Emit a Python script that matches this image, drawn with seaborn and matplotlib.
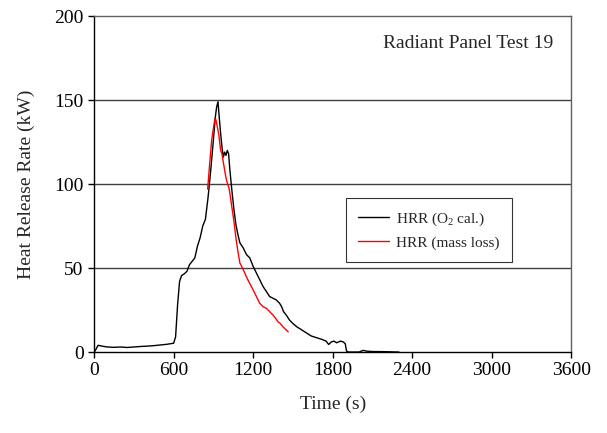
import matplotlib
matplotlib.use("Agg")
import matplotlib.pyplot as plt
import seaborn as sns
import pandas as pd

# HRR from oxygen calorimetry
o2_time = [0, 10, 30, 60, 100, 150, 200, 250, 300, 350, 400, 450, 500, 550, 580,
           600, 615, 630, 645, 660, 680, 700, 720, 740, 760, 780, 800, 820, 840,
           860, 880, 900, 915, 925, 935, 945, 955, 965, 975, 985, 995, 1005, 1015,
           1025, 1040, 1055, 1070, 1085, 1100, 1125, 1150, 1175, 1200, 1225, 1250,
           1275, 1300, 1325, 1350, 1375, 1400, 1415, 1430, 1450, 1475, 1500, 1530,
           1560, 1600, 1640, 1680, 1720, 1750, 1770, 1790, 1810, 1830, 1860, 1880,
           1895, 1905, 1920, 1960, 2000, 2030, 2060, 2100, 2200, 2300]
o2_hrr = [0, 1, 4, 3.5, 3, 2.8, 3, 2.7, 3, 3.3, 3.5, 3.8, 4.2, 4.6, 5,
          5.2, 9, 28, 42, 45.5, 46.5, 48, 52, 54, 56, 63, 68, 75, 79,
          92, 108, 126, 140, 146, 149, 139, 130, 122, 116, 119, 117, 120, 118,
          108, 96, 85, 76, 70, 65, 62, 58, 56, 51, 47, 43,
          39, 36, 33, 32, 31, 29, 27, 24, 22, 19, 17, 15,
          13.5, 11.5, 9.5, 8.5, 7.5, 6.5, 4.5, 6, 6.5, 5.5, 6.5, 6,
          5, 0.5, 0, 0, 0, 1, 0.5, 0.3, 0.2, 0]

# HRR from mass loss
ml_time = [857, 870, 887, 900, 912, 920, 930, 940, 955, 965, 975, 990, 1000, 1020,
           1040, 1055, 1070, 1085, 1100, 1120, 1137, 1160, 1180, 1200, 1225, 1250,
           1275, 1300, 1325, 1350, 1370, 1388, 1405, 1425, 1445, 1465]
ml_hrr = [97, 110, 126, 133, 139, 138, 134, 130, 120, 118, 113, 106, 102, 97,
          86, 78, 68, 60, 53, 50, 47, 43, 40, 37, 33, 29,
          27, 26, 24, 22, 20, 18, 17, 15, 13.5, 12]

sns.set_style("white")
plt.rcParams["font.family"] = ["Liberation Serif", "DejaVu Serif"]
plt.rcParams["mathtext.fontset"] = "custom"
plt.rcParams["mathtext.rm"] = "Liberation Serif"
plt.rcParams["mathtext.it"] = "Liberation Serif:italic"

df_o2 = pd.DataFrame({"t": o2_time, "hrr": o2_hrr})
df_ml = pd.DataFrame({"t": ml_time, "hrr": ml_hrr})

fig = plt.figure(figsize=(6.07, 4.33), dpi=100)
ax = fig.add_axes([0.155, 0.187, 0.786, 0.776])

for y in [50, 100, 150]:
    ax.axhline(y, color="#404040", lw=1.0, zorder=0)

sns.lineplot(data=df_o2, x="t", y="hrr", ax=ax, color="black", lw=1.0,
             sort=False, estimator=None, label="HRR (O$_2$ cal.)")
sns.lineplot(data=df_ml, x="t", y="hrr", ax=ax, color="red", lw=1.0,
             sort=False, estimator=None, label="HRR (mass loss)")

ax.set_xlim(0, 3600)
ax.set_ylim(0, 200)
ax.set_xticks(range(0, 3601, 600))
ax.set_yticks(range(0, 201, 50))
ax.tick_params(direction="out", length=4, width=1, labelsize=14, colors="black",
               bottom=True, left=True)
ax.set_xlabel("Time (s)", fontsize=14, labelpad=12)
ax.set_ylabel("Heat Release Rate (kW)", fontsize=14, labelpad=14)

for side in ["left", "bottom"]:
    ax.spines[side].set_color("black")
for side in ["top", "right"]:
    ax.spines[side].set_color("#606060")
for s in ax.spines.values():
    s.set_linewidth(1.0)

ax.text(0.962, 0.917, "Radiant Panel Test 19", transform=ax.transAxes,
        ha="right", va="center", fontsize=14)

leg = ax.legend(loc="upper left", bbox_to_anchor=(0.528, 0.458), borderaxespad=0,
                fontsize=11, frameon=True, fancybox=False, edgecolor="black",
                handlelength=2.0, handletextpad=0.5, borderpad=0.8,
                labelspacing=0.55)
leg.get_frame().set_linewidth(0.8)

fig.savefig("out.png", dpi=100)
